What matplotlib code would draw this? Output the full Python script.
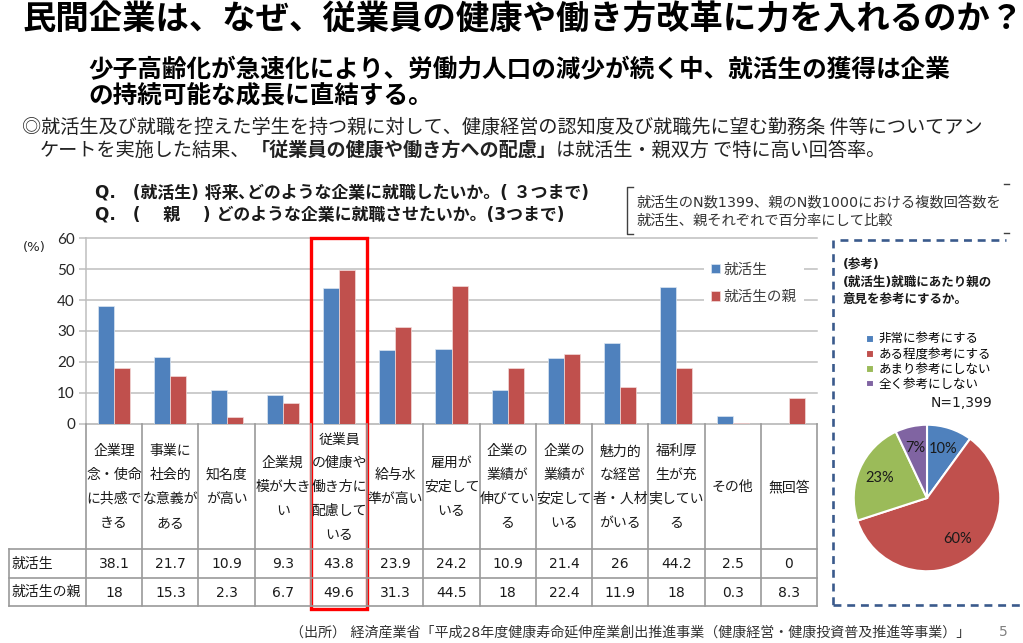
import numpy as np
import matplotlib
matplotlib.use('Agg')
import matplotlib.pyplot as plt
import matplotlib.transforms as mtransforms
from matplotlib.patches import Rectangle
from matplotlib.lines import Line2D

# ---------------- data ----------------
categories = [
    '企業理\n念・使命\nに共感で\nきる',
    '事業に\n社会的\nな意義が\nある',
    '知名度\nが高い',
    '企業規\n模が大き\nい',
    '従業員\nの健康や\n働き方に\n配慮して\nいる',
    '給与水\n準が高い',
    '雇用が\n安定して\nいる',
    '企業の\n業績が\n伸びてい\nる',
    '企業の\n業績が\n安定して\nいる',
    '魅力的\nな経営\n者・人材\nがいる',
    '福利厚\n生が充\n実してい\nる',
    'その他',
    '無回答',
]
students = [38.1, 21.7, 10.9, 9.3, 43.8, 23.9, 24.2, 10.9, 21.4, 26, 44.2, 2.5, 0]
parents = [18, 15.3, 2.3, 6.7, 49.6, 31.3, 44.5, 18, 22.4, 11.9, 18, 0.3, 8.3]
series_names = ['就活生', '就活生の親']
yticks = [0, 10, 20, 30, 40, 50, 60]
highlight_index = 4

pie_labels = ['非常に参考にする', 'ある程度参考にする', 'あまり参考にしない', '全く参考にしない']
pie_values = [10, 60, 23, 7]

# ---------------- style ----------------
W, H = 1023, 643
BLUE, RED, GREEN, PURPLE = '#4F81BD', '#C0504D', '#9BBB59', '#8064A2'
JP = ['Noto Sans CJK JP']
MIX = ['DejaVu Sans', 'Noto Sans CJK JP']
GRID = '#BFBFBF'
TBL = '#9A9A9A'

fig = plt.figure(figsize=(W / 100, H / 100), dpi=100)
fig.patch.set_facecolor('white')

# overlay in pixel coordinates
ov = fig.add_axes([0, 0, 1, 1], zorder=5)
ov.set_xlim(0, W)
ov.set_ylim(H, 0)
ov.axis('off')

# ---------------- bar chart ----------------
x0, x1 = 86, 817
ytop, ybot = 238.3, 423.7
ax = fig.add_axes([x0 / W, 1 - ybot / H, (x1 - x0) / W, (ybot - ytop) / H], zorder=2)
n = len(categories)
xs = np.arange(n)
bw = 0.285
b1 = ax.bar(xs - bw / 2, students, bw, color=BLUE, edgecolor='#DCE6F2', linewidth=0.5, zorder=3)
b2 = ax.bar(xs + bw / 2, parents, bw, color=RED, edgecolor='#F2DCDB', linewidth=0.5, zorder=3)
ax.set_xlim(-0.5, n - 0.5)
ax.set_ylim(0, 60)
ax.set_yticks(yticks)
ax.set_yticklabels([str(t) for t in yticks], fontfamily='Lato', fontsize=11, color='#262626')
ax.set_xticks([])
ax.grid(axis='y', color=GRID, linewidth=1.1)
ax.set_axisbelow(True)
for gl in ax.get_ygridlines():
    gl.set_clip_on(False)
for s in ['top', 'right']:
    ax.spines[s].set_visible(False)
ax.spines['left'].set_color(GRID)
ax.spines['bottom'].set_color(GRID)
ax.spines['left'].set_linewidth(1.1)
ax.spines['bottom'].set_linewidth(1.1)
ax.tick_params(axis='y', length=5, color=GRID, width=1.1, pad=3)

leg = ax.legend(handles=[b1, b2], labels=series_names, loc='upper left',
                bbox_to_anchor=(697 / W, 1 - 248 / H), bbox_transform=fig.transFigure,
                frameon=True, fancybox=False, edgecolor='none', facecolor='white', framealpha=1,
                handlelength=0.6, handleheight=0.6, handletextpad=0.3, labelspacing=0.85,
                borderpad=0.45, prop={'family': MIX, 'size': 10.5})
for t in leg.get_texts():
    t.set_color('#404040')

ov.text(23, 248, '(%)', fontsize=9.5, family=MIX, ha='left', va='center', color='#262626')

# ---------------- table ----------------
trans = mtransforms.blended_transform_factory(ax.transData, ov.transData)
row_top, row1, row2, row3 = ybot, 549.3, 577.7, 606.0
for i in range(n + 1):
    ov.add_line(Line2D([i - 0.5, i - 0.5], [row_top, row3], transform=trans, color=TBL, lw=1.2, clip_on=False))
for yy in [row1, row2, row3]:
    ov.add_line(Line2D([9.3, x1], [yy, yy], color=TBL, lw=1.2, clip_on=False))
ov.add_line(Line2D([9.3, 9.3], [row1, row3], color=TBL, lw=1.2, clip_on=False))

label_center = 487
line_gap = 23.8
for i, cat in enumerate(categories):
    lines = cat.split('\n')
    k = len(lines)
    for j, ln in enumerate(lines):
        yy = label_center + (j - (k - 1) / 2) * line_gap
        ov.text(i, yy, ln, transform=trans, ha='center', va='center', fontsize=10,
                family=MIX, color='#1a1a1a')
for i, (a, b) in enumerate(zip(students, parents)):
    ov.text(i, (row1 + row2) / 2 + 1, f'{a:g}', transform=trans, ha='center', va='center',
            fontsize=10, family=MIX, color='#1a1a1a')
    ov.text(i, (row2 + row3) / 2 + 1, f'{b:g}', transform=trans, ha='center', va='center',
            fontsize=10, family=MIX, color='#1a1a1a')
ov.text(11.5, (row1 + row2) / 2, series_names[0], ha='left', va='center', fontsize=10, family=MIX, color='#1a1a1a')
ov.text(11.5, (row2 + row3) / 2, series_names[1], ha='left', va='center', fontsize=10, family=MIX, color='#1a1a1a')

# highlight box
ov.add_patch(Rectangle((highlight_index - 0.5, ytop), 1, 608.5 - ytop, transform=trans,
                       fill=False, edgecolor='#FF0000', linewidth=2.4, clip_on=False))

# ---------------- pie ----------------
cx, cy, r = 927, 498, 74
pax = fig.add_axes([(cx - r) / W, 1 - (cy + r) / H, 2 * r / W, 2 * r / H], zorder=3)
wedges, _, autotexts = pax.pie(pie_values, colors=[BLUE, RED, GREEN, PURPLE], startangle=90,
                               counterclock=False, autopct='%1.0f%%', pctdistance=0.7,
                               wedgeprops=dict(edgecolor='white', linewidth=1.5),
                               textprops=dict(fontsize=10.5, family='Lato', color='#1a1a1a'))
pax.set_xlim(-1.01, 1.01)
pax.set_ylim(-1.01, 1.01)
pax.set_aspect('equal')

fig.legend(handles=wedges, labels=pie_labels, loc='upper left',
           bbox_to_anchor=(860 / W, 1 - 327 / H), frameon=False,
           handlelength=0.6, handleheight=0.6, handletextpad=0.35, labelspacing=0.15,
           borderpad=0, prop={'family': MIX, 'size': 9})

for j, ln in enumerate(['(参考)', '(就活生)就職にあたり親の', '意見を参考にするか。']):
    ov.text(843, [264, 282, 299][j], ln, ha='left', va='center', fontsize=9, fontweight='bold',
            family=MIX, color='#1a1a1a')
ov.text(961, 403, 'N=1,399', ha='center', va='center', fontsize=10, family=MIX, color='#1a1a1a')

DASH = '#3A5A8C'
ov.add_line(Line2D([833, 833], [240, 605], color=DASH, lw=1.9, linestyle=(0, (3.0, 2.2)), clip_on=False))
ov.add_line(Line2D([840, 1006], [240, 240], color=DASH, lw=1.9, linestyle=(0, (3.0, 2.2)), clip_on=False))
ov.add_line(Line2D([833, 1023], [605, 605], color=DASH, lw=1.9, linestyle=(0, (3.0, 2.2)), clip_on=False))

# ---------------- note bracket ----------------
ov.add_line(Line2D([633, 627, 627, 633], [187, 187, 234, 234], color='#404040', lw=1.0))
ov.add_line(Line2D([1004, 1009], [184, 184], color='#404040', lw=1.0))
ov.add_line(Line2D([1004, 1009], [233, 233], color='#404040', lw=1.0))
clip = Rectangle((600, 170), 403, 70, transform=ov.transData)
for yy, ln in [(202, '就活生のN数1399、親のN数1000における複数回答数を'),
               (221, '就活生、親それぞれで百分率にして比較')]:
    t = ov.text(637, yy, ln, ha='left', va='center', fontsize=10.3, family=MIX, color='#333333')
    t.set_clip_path(clip)

# ---------------- question text ----------------
ov.text(95, 192, 'Q.　(就活生) 将来､どのような企業に就職したいか。( ３つまで)', ha='left', va='center',
        fontsize=12.2, fontweight='bold', family=MIX, color='#1a1a1a')
ov.text(95, 215, 'Q.　(　 親　 ) どのような企業に就職させたいか。(3つまで)', ha='left', va='center',
        fontsize=12.2, fontweight='bold', family=MIX, color='#1a1a1a')

# ---------------- headings ----------------
ov.text(22, 20, '民間企業は、なぜ、従業員の健康や働き方改革に力を入れるのか？', ha='left', va='center',
        fontsize=24, fontweight='bold', family=JP, color='#000000')
ov.text(88, 70, '少子高齢化が急速化により、労働力人口の減少が続く中、就活生の獲得は企業', ha='left',
        va='center', fontsize=17.7, fontweight='bold', family=JP, color='#000000')
ov.text(88, 97, 'の持続可能な成長に直結する。', ha='left', va='center', fontsize=17.7,
        fontweight='bold', family=JP, color='#000000')
ov.text(22, 127, '◎就活生及び就職を控えた学生を持つ親に対して、健康経営の認知度及び就職先に望む勤務条 件等についてアン',
        ha='left', va='center', fontsize=13.8, family=JP, color='#222222')

renderer = fig.canvas.get_renderer()
xpos = 40
for seg, wgt in [('ケートを実施した結果、', 'normal'), ('「従業員の健康や働き方への配慮」', 'bold'),
                 ('は就活生・親双方 で特に高い回答率。', 'normal')]:
    t = ov.text(xpos, 150, seg, ha='left', va='center', fontsize=13.8, fontweight=wgt, family=JP,
                color='#222222')
    bb = t.get_window_extent(renderer)
    xpos = bb.x1

ov.text(290, 633, '（出所） 経済産業省「平成28年度健康寿命延伸産業創出推進事業（健康経営・健康投資普及推進等事業）」',
        ha='left', va='center', fontsize=10.1, family=MIX, color='#333333')
ov.text(1003, 632, '5', ha='center', va='center', fontsize=10, family=MIX, color='#808080')

fig.savefig('out.png', dpi=100, facecolor='white')
